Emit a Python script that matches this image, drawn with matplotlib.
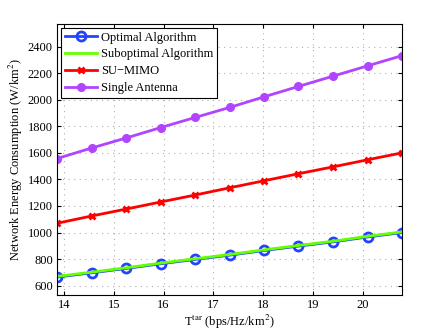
import matplotlib
matplotlib.use('Agg')
import matplotlib.pyplot as plt
import numpy as np

# throughput target, 20*ln2 ... 30*ln2
t_tar = [13.86, 14.56, 15.25, 15.94, 16.64, 17.33, 18.02, 18.71, 19.41, 20.10, 20.79]

optimal = [665, 697, 730, 765, 798, 830, 865, 898, 930, 967, 1000]
suboptimal = [670, 702, 735, 770, 803, 835, 870, 903, 935, 972, 1005]
su_mimo = [1070, 1125, 1177, 1230, 1283, 1337, 1390, 1443, 1495, 1548, 1600]
single_ant = [1557, 1637, 1712, 1790, 1867, 1942, 2022, 2100, 2178, 2255, 2332]

plt.rcParams['font.family'] = ['Liberation Serif', 'DejaVu Serif']
plt.rcParams['mathtext.fontset'] = 'stix'

fig = plt.figure(figsize=(4.43, 3.33), dpi=100)
ax = fig.add_axes([57/443, 1 - 295/333, 345/443, 271/333])

ax.plot(t_tar, optimal, color='#2244ff', lw=2, marker='o', ms=6.5,
        mfc='none', mew=2, label='Optimal Algorithm')
ax.plot(t_tar, suboptimal, color='#66ff00', lw=2, label='Suboptimal Algorithm')
ax.plot(t_tar, su_mimo, color='#ff0000', lw=2, marker='x', ms=5, mew=2,
        label='SU\u2212MIMO')
ax.plot(t_tar, single_ant, color='#b044ff', lw=2, marker='o', ms=5.5,
        label='Single Antenna')

ax.set_xlim(13.86, 20.79)
ax.set_ylim(530, 2570)
ax.set_xticks(range(14, 21))
ax.set_yticks(range(600, 2401, 200))
ax.tick_params(direction='in', labelsize=9, length=3, top=True, right=True, pad=3)
ax.grid(True, linestyle=(0, (1, 4)), color='#b0b0b0', lw=0.8)
for s in ax.spines.values():
    s.set_linewidth(0.8)

ax.set_xlabel(r'T$^{\rm tar}$ (bps/Hz/km$^2$)', fontsize=9, labelpad=1)
ax.set_ylabel(r'Network Energy Consumption (W/km$^2$)', fontsize=9, labelpad=2)

leg = ax.legend(loc='upper left', fontsize=9, fancybox=False, framealpha=1,
                edgecolor='black', borderaxespad=0.3, handlelength=2.6,
                handletextpad=0.3, labelspacing=0.4, borderpad=0.3)
leg.get_frame().set_linewidth(0.8)

fig.savefig('out.png', dpi=100)
